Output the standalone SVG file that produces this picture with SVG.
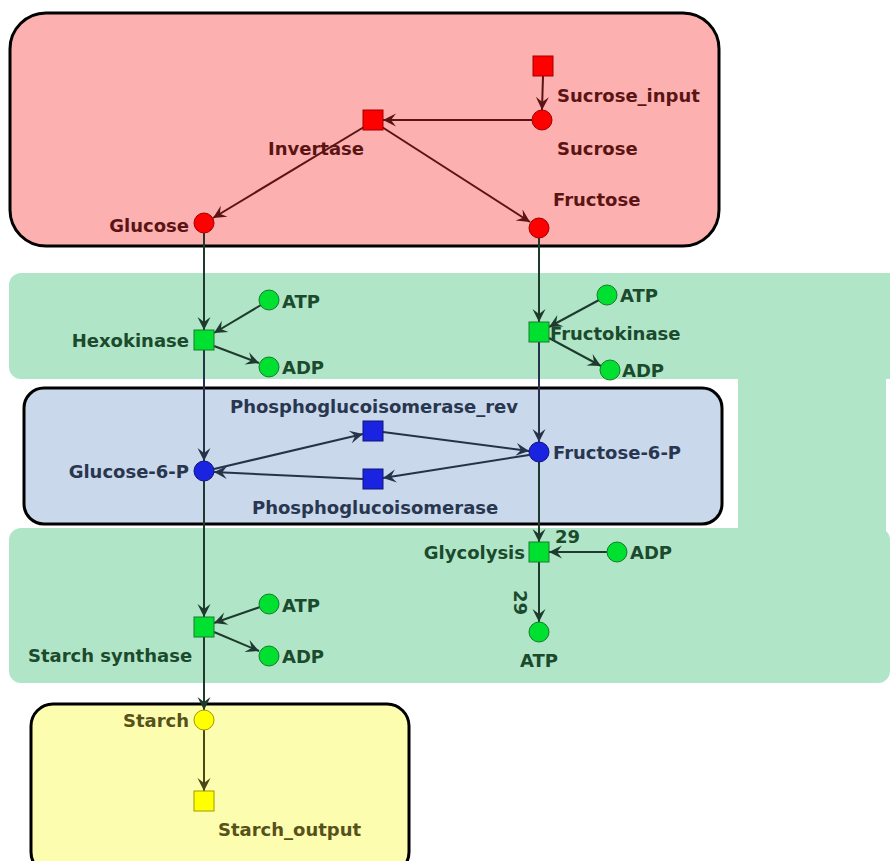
<svg xmlns="http://www.w3.org/2000/svg" width="890" height="861" viewBox="0 0 890 861">
<style>
text{font-family:"DejaVu Sans","Liberation Sans",sans-serif;font-size:18px;font-weight:bold}
.tr{fill:#5a1414}.tg{fill:#1b4a2c}.tb{fill:#283650}.ty{fill:#56521a}
.er{stroke:#5a1414;stroke-width:2;fill:none;marker-end:url(#ar)}
.eg{stroke:#1d3a2c;stroke-width:2;fill:none;marker-end:url(#ag)}
.eb{stroke:#26324a;stroke-width:2;fill:none;marker-end:url(#ab)}
.ey{stroke:#4d4812;stroke-width:2;fill:none;marker-end:url(#ay)}
.nr{fill:#ff0000;stroke:#a00000;stroke-width:1}
.ng{fill:#00e030;stroke:#1a7a2a;stroke-width:1}
.nb{fill:#1a24e0;stroke:#101578;stroke-width:1}
.ny{fill:#ffff00;stroke:#a09a00;stroke-width:1}
.comp{stroke:#000;stroke-width:3}
</style>
<defs>
<marker id="ar" markerUnits="userSpaceOnUse" markerWidth="16" markerHeight="14" viewBox="-14 -7 16 14" refX="0" refY="0" orient="auto"><path d="M0,0 L-13,-6.5 L-8,0 L-13,6.5 Z" fill="#5a1414"/></marker>
<marker id="ag" markerUnits="userSpaceOnUse" markerWidth="16" markerHeight="14" viewBox="-14 -7 16 14" refX="0" refY="0" orient="auto"><path d="M0,0 L-13,-6.5 L-8,0 L-13,6.5 Z" fill="#1d3a2c"/></marker>
<marker id="ab" markerUnits="userSpaceOnUse" markerWidth="16" markerHeight="14" viewBox="-14 -7 16 14" refX="0" refY="0" orient="auto"><path d="M0,0 L-13,-6.5 L-8,0 L-13,6.5 Z" fill="#26324a"/></marker>
<marker id="ay" markerUnits="userSpaceOnUse" markerWidth="16" markerHeight="14" viewBox="-14 -7 16 14" refX="0" refY="0" orient="auto"><path d="M0,0 L-13,-6.5 L-8,0 L-13,6.5 Z" fill="#4d4812"/></marker>
</defs>
<rect width="890" height="861" fill="#fff"/>
<g id="compartments">
<rect id="cytosol" x="10" y="13" width="709" height="233" rx="36" fill="#fdb0b0" class="comp"/>
<rect id="green_upper" x="9" y="273" width="900" height="106" rx="12" fill="#b0e5c8"/>
<rect id="green_lower" x="9" y="528" width="881" height="155" rx="12" fill="#b0e5c8"/>
<rect id="green_strip" x="738" y="370" width="148" height="166" fill="#b0e5c8"/>
<rect id="blue_comp" x="24" y="388" width="698" height="136" rx="20" fill="#c9d8ea" class="comp"/>
<rect id="yellow_comp" x="31" y="704" width="378" height="170" rx="22" fill="#fdfdb0" class="comp"/>
</g>
<g id="connectors">
<line class="er" x1="543" y1="76" x2="542" y2="110"/>
<line class="er" x1="532" y1="120" x2="383" y2="120"/>
<line class="er" x1="364" y1="127" x2="213" y2="218"/>
<line class="er" x1="382" y1="127" x2="530" y2="222"/>
<line class="eg" x1="204" y1="233" x2="204" y2="330"/>
<line class="eg" x1="261" y1="305" x2="214" y2="333"/>
<line class="eg" x1="214" y1="346" x2="259" y2="363"/>
<line class="eb" x1="204" y1="350" x2="204" y2="461"/>
<line class="eg" x1="539" y1="238" x2="539" y2="322"/>
<line class="eg" x1="599" y1="300" x2="549" y2="327"/>
<line class="eg" x1="549" y1="338" x2="601" y2="366"/>
<line class="eb" x1="539" y1="342" x2="539" y2="442"/>
<line class="eb" x1="214" y1="469" x2="363" y2="434"/>
<line class="eb" x1="383" y1="432" x2="529" y2="451"/>
<line class="eb" x1="529" y1="455" x2="383" y2="478"/>
<line class="eb" x1="363" y1="479" x2="214" y2="472"/>
<line class="eg" x1="539" y1="462" x2="539" y2="542"/>
<line class="eg" x1="607" y1="552" x2="549" y2="552"/>
<line class="eg" x1="539" y1="562" x2="539" y2="622"/>
<line class="eg" x1="204" y1="481" x2="204" y2="617"/>
<line class="eg" x1="260" y1="607" x2="214" y2="623"/>
<line class="eg" x1="214" y1="632" x2="259" y2="651"/>
<line class="eg" x1="204" y1="637" x2="204" y2="710"/>
<line class="ey" x1="204" y1="730" x2="204" y2="791"/>
<text x="555" y="543" class="tg">29</text>
<text x="0" y="0" class="tg" transform="translate(514,590) rotate(90)">29</text>
</g>
<g id="Sucrose_input"><rect class="nr" x="533" y="56" width="20" height="20"/><text x="557" y="102" class="tr">Sucrose_input</text></g>
<g id="Sucrose"><circle class="nr" cx="542" cy="120" r="10"/><text x="557" y="155" class="tr">Sucrose</text></g>
<g id="Invertase"><rect class="nr" x="363" y="110" width="20" height="20"/><text x="268" y="155" class="tr">Invertase</text></g>
<g id="Glucose"><circle class="nr" cx="204" cy="223" r="10"/><text x="189" y="232" text-anchor="end" class="tr">Glucose</text></g>
<g id="Fructose"><circle class="nr" cx="539" cy="228" r="10"/><text x="553" y="206" class="tr">Fructose</text></g>
<g id="Hexokinase"><rect class="ng" x="194" y="330" width="20" height="20"/><text x="189" y="347" text-anchor="end" class="tg">Hexokinase</text></g>
<g id="ATP_hex"><circle class="ng" cx="269" cy="300" r="10"/><text x="282" y="308" class="tg">ATP</text></g>
<g id="ADP_hex"><circle class="ng" cx="269" cy="367" r="10"/><text x="282" y="374" class="tg">ADP</text></g>
<g id="Fructokinase"><rect class="ng" x="529" y="322" width="20" height="20"/><text x="550" y="340" class="tg">Fructokinase</text></g>
<g id="ATP_fk"><circle class="ng" cx="607" cy="295" r="10"/><text x="620" y="302" class="tg">ATP</text></g>
<g id="ADP_fk"><circle class="ng" cx="610" cy="370" r="10"/><text x="622" y="377" class="tg">ADP</text></g>
<g id="Glucose-6-P"><circle class="nb" cx="204" cy="471" r="10"/><text x="189" y="478" text-anchor="end" class="tb">Glucose-6-P</text></g>
<g id="Fructose-6-P"><circle class="nb" cx="539" cy="452" r="10"/><text x="553" y="459" class="tb">Fructose-6-P</text></g>
<g id="Phosphoglucoisomerase_rev"><rect class="nb" x="363" y="421" width="20" height="20"/><text x="230" y="413" class="tb">Phosphoglucoisomerase_rev</text></g>
<g id="Phosphoglucoisomerase"><rect class="nb" x="363" y="469" width="20" height="20"/><text x="252" y="514" class="tb">Phosphoglucoisomerase</text></g>
<g id="Glycolysis"><rect class="ng" x="529" y="542" width="20" height="20"/><text x="525" y="559" text-anchor="end" class="tg">Glycolysis</text></g>
<g id="ADP_gly"><circle class="ng" cx="617" cy="552" r="10"/><text x="630" y="559" class="tg">ADP</text></g>
<g id="ATP_gly"><circle class="ng" cx="539" cy="632" r="10"/><text x="539" y="667" text-anchor="middle" class="tg">ATP</text></g>
<g id="Starch_synthase"><rect class="ng" x="194" y="617" width="20" height="20"/><text x="28" y="662" class="tg">Starch synthase</text></g>
<g id="ATP_ss"><circle class="ng" cx="269" cy="604" r="10"/><text x="282" y="612" class="tg">ATP</text></g>
<g id="ADP_ss"><circle class="ng" cx="269" cy="656" r="10"/><text x="282" y="663" class="tg">ADP</text></g>
<g id="Starch"><circle class="ny" cx="204" cy="720" r="10"/><text x="189" y="727" text-anchor="end" class="ty">Starch</text></g>
<g id="Starch_output"><rect class="ny" x="194" y="791" width="20" height="20"/><text x="218" y="836" class="ty">Starch_output</text></g>
</svg>
